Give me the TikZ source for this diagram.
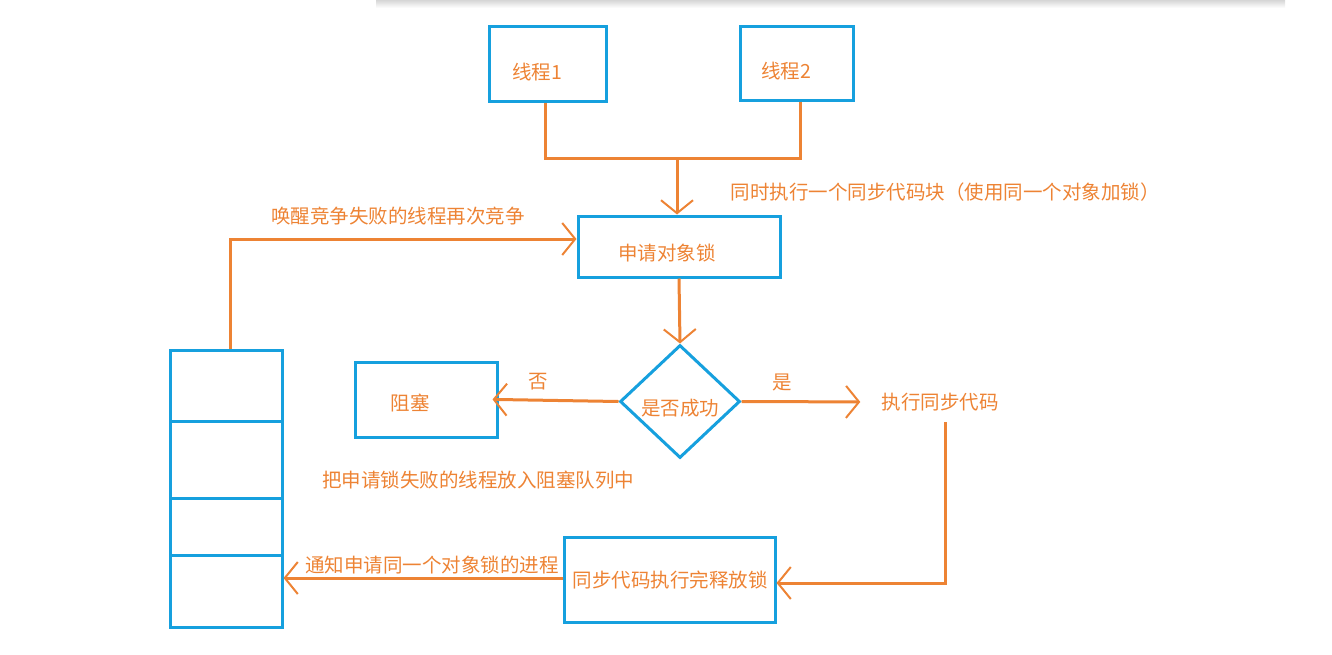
\documentclass[tikz,border=0pt]{standalone}
\usepackage{fontspec}
\newfontfamily\cjk{Noto Sans CJK SC}
\usetikzlibrary{arrows.meta,shapes.geometric,calc}
\definecolor{boxblue}{RGB}{22,160,222}
\definecolor{lineorange}{RGB}{237,131,52}
\begin{document}
\begin{tikzpicture}[x=1pt,y=-1pt,
  box/.style={draw=boxblue,line width=3pt,inner sep=0pt},
  txt/.style={text=lineorange,font=\cjk\fontsize{19.5}{21}\selectfont,inner sep=1pt},
  conn/.style={draw=lineorange,line width=3pt},
  arr/.style={conn,-{Straight Barb[length=13pt,width=32pt,line width=2pt]}}]
\useasboundingbox (0,0) rectangle (1332,654);
% screenshot shadow at top
\shade[top color=black!18,bottom color=white] (376,-1) rectangle (1285,8);
% boxes
\node[box,minimum width=117pt,minimum height=75pt] (t1) at (547.5,63.5) {};
\node[box,minimum width=113pt,minimum height=74pt] (t2) at (796.5,63) {};
\node[box,minimum width=202pt,minimum height=61pt] (lock) at (679,246.5) {};
\node[box,shape=diamond,minimum width=120pt,minimum height=113pt] (dec) at (680,401.5) {};
\node[box,minimum width=142pt,minimum height=75pt] (block) at (426,399.5) {};
\node[box,minimum width=211pt,minimum height=85pt] (rel) at (669.5,579.5) {};
\node[box,minimum width=112pt,minimum height=71pt] (q1) at (226,385.5) {};
\node[box,minimum width=112pt,minimum height=77pt] (q2) at (226,459.5) {};
\node[box,minimum width=112pt,minimum height=57pt] (q3) at (226,526.5) {};
\node[box,minimum width=112pt,minimum height=72pt] (q4) at (226,591) {};
% texts
\node[txt] (t1l) at (537,72) {线程1};
\node[txt] (t2l) at (786,71) {线程2};
\node[txt] (lockl) at (667,253) {申请对象锁};
\node[txt] (decl) at (680,408) {是否成功};
\node[txt] (blockl) at (410,403) {阻塞};
\node[txt] (rell) at (670,580) {同步代码执行完释放锁};
\node[txt] (exec) at (940,402) {执行同步代码};
\node[txt] (lsync) at (945,192) {同时执行一个同步代码块（使用同一个对象加锁）};
\node[txt] (lwake) at (398,216) {唤醒竞争失败的线程再次竞争};
\node[txt] (lno) at (538,382) {否};
\node[txt] (lyes) at (782,382) {是};
\node[txt] (lqueue) at (478,480) {把申请锁失败的线程放入阻塞队列中};
\node[txt] (lnotify) at (432,565) {通知申请同一个对象锁的进程};
% connectors
\coordinate (j) at (677,158);
\draw[conn] ([xshift=-2.5pt]t1.south) |- (j);
\draw[conn] ([xshift=3.5pt]t2.south) |- (j);
\draw[arr] (j) -- (j |- lock.north);
\draw[arr] (lock.south) -- (dec.north);
\draw[arr,shorten >=-6pt] (dec.west) -- (block.east);
\draw[arr,shorten >=20pt] (dec.east) -- (exec.west);
\coordinate (c1) at (945,583);
\draw[arr,shorten <=10pt] ([xshift=5pt]exec.south) -- (c1) -- (c1 -| rel.east);
\draw[arr] ([yshift=1.5pt]rel.west) -- ([yshift=1.5pt]rel.west -| q4.east);
\coordinate (c2) at (230,239);
\draw[arr] ([xshift=4pt]q1.north) -- ([xshift=4pt]q1.north |- c2) -- (c2 -| lock.west);
\end{tikzpicture}
\end{document}
